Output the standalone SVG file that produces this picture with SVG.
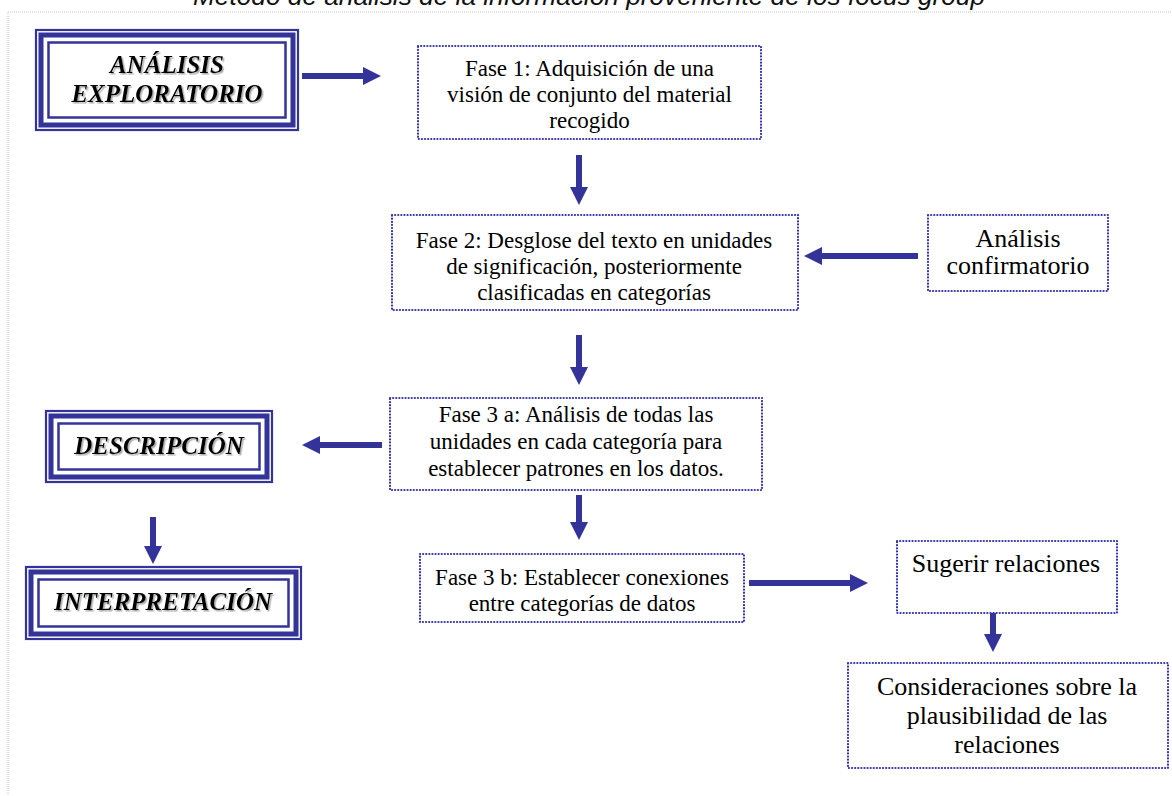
<svg xmlns="http://www.w3.org/2000/svg" width="1172" height="796" viewBox="0 0 1172 796">
<style>
.frame{fill:none;stroke:#c8c8c8;stroke-width:1;stroke-dasharray:1 1}
.title{font-family:"Liberation Sans",Arial,sans-serif;font-style:italic;font-size:26px;fill:#111}
.dbl1{fill:#fff;stroke:#333399;stroke-width:2.2}
.dbl2{fill:none;stroke:#333399;stroke-width:5}
.dbl3{fill:none;stroke:#333399;stroke-width:2.5}
.dot{fill:#fff;stroke:#3333aa;stroke-width:2.2;stroke-dasharray:0.1 3;stroke-linecap:round}
.big{font-family:"Liberation Serif","Times New Roman",serif;font-weight:bold;font-style:italic;font-size:25px;fill:#000;text-anchor:middle}
.t{font-family:"Liberation Serif","Times New Roman",serif;font-size:23px;fill:#000;text-anchor:middle}
.t2{font-family:"Liberation Serif","Times New Roman",serif;font-size:26px;fill:#000;text-anchor:middle}
.con{stroke:#333399;stroke-width:6;fill:none}
</style>
<defs>
<marker id="ah" viewBox="0 0 18 18" refX="0" refY="9" markerWidth="18" markerHeight="18" markerUnits="userSpaceOnUse" orient="auto">
<path d="M0,0 L18,9 L0,18 Z" fill="#333399"/>
</marker>
<filter id="sh" x="-10%" y="-20%" width="120%" height="150%">
<feDropShadow dx="1.5" dy="1.5" stdDeviation="0.7" flood-color="#888" flood-opacity="0.7"/>
</filter>
</defs>
<rect width="1172" height="796" fill="#fff"/>
<path class="frame" d="M8,12 H1172 M8,12 V796"/>
<text class="title" x="589" y="5" text-anchor="middle" textLength="792" lengthAdjust="spacingAndGlyphs">Método de análisis de la información proveniente de los focus group</text>

<g id="connectors">
<line class="con" x1="302" y1="76" x2="363" y2="76" marker-end="url(#ah)"/>
<line class="con" x1="579" y1="155" x2="579" y2="187" marker-end="url(#ah)"/>
<line class="con" x1="918" y1="256" x2="822" y2="256" marker-end="url(#ah)"/>
<line class="con" x1="579" y1="335" x2="579" y2="367" marker-end="url(#ah)"/>
<line class="con" x1="382" y1="445" x2="320" y2="445" marker-end="url(#ah)"/>
<line class="con" x1="579" y1="495" x2="579" y2="522" marker-end="url(#ah)"/>
<line class="con" x1="153" y1="517" x2="153" y2="546" marker-end="url(#ah)"/>
<line class="con" x1="749" y1="583" x2="850" y2="583" marker-end="url(#ah)"/>
<line class="con" x1="993" y1="613" x2="993" y2="634" marker-end="url(#ah)"/>
</g>

<g id="analisis-exploratorio">
<rect class="dbl1" x="36" y="30" width="262" height="100"/>
<rect class="dbl2" x="41" y="35" width="252" height="90"/>
<rect class="dbl3" x="48.5" y="42.5" width="237" height="75"/>
<g filter="url(#sh)">
<text class="big" x="167" y="73">ANÁLISIS</text>
<text class="big" x="167" y="102">EXPLORATORIO</text>
</g>
</g>

<g id="fase1">
<rect class="dot" x="418" y="46" width="343" height="93"/>
<text class="t" x="589.5" y="76">Fase 1: Adquisición de una</text>
<text class="t" x="589.5" y="102">visión de conjunto del material</text>
<text class="t" x="589.5" y="128">recogido</text>
</g>

<g id="fase2">
<rect class="dot" x="392" y="215" width="406" height="95"/>
<text class="t" x="594" y="248">Fase 2: Desglose del texto en unidades</text>
<text class="t" x="594" y="274">de significación, posteriormente</text>
<text class="t" x="594" y="300">clasificadas en categorías</text>
</g>

<g id="analisis-confirmatorio">
<rect class="dot" x="928" y="215" width="180" height="76"/>
<text class="t2" x="1018" y="247">Análisis</text>
<text class="t2" x="1018" y="274">confirmatorio</text>
</g>

<g id="fase3a">
<rect class="dot" x="390" y="398" width="372" height="92"/>
<text class="t" x="576" y="422">Fase 3 a: Análisis de todas las</text>
<text class="t" x="576" y="449">unidades en cada categoría para</text>
<text class="t" x="576" y="476">establecer patrones en los datos.</text>
</g>

<g id="descripcion">
<rect class="dbl1" x="46" y="411" width="226" height="71"/>
<rect class="dbl2" x="51" y="416" width="216" height="61"/>
<rect class="dbl3" x="58.5" y="423.5" width="201" height="46"/>
<text class="big" x="159" y="454" filter="url(#sh)">DESCRIPCIÓN</text>
</g>

<g id="interpretacion">
<rect class="dbl1" x="26" y="567" width="275" height="72"/>
<rect class="dbl2" x="31" y="572" width="265" height="62"/>
<rect class="dbl3" x="38.5" y="579.5" width="250" height="47"/>
<text class="big" x="163" y="610" filter="url(#sh)">INTERPRETACIÓN</text>
</g>

<g id="fase3b">
<rect class="dot" x="420" y="554" width="324" height="68"/>
<text class="t" x="582" y="585">Fase 3 b: Establecer conexiones</text>
<text class="t" x="582" y="611">entre categorías de datos</text>
</g>

<g id="sugerir">
<rect class="dot" x="897" y="541" width="220" height="72"/>
<text class="t2" x="1006" y="572">Sugerir relaciones</text>
</g>

<g id="consideraciones">
<rect class="dot" x="848" y="663" width="320" height="105"/>
<text class="t2" x="1007" y="695">Consideraciones sobre la</text>
<text class="t2" x="1007" y="724">plausibilidad de las</text>
<text class="t2" x="1007" y="753">relaciones</text>
</g>
</svg>
